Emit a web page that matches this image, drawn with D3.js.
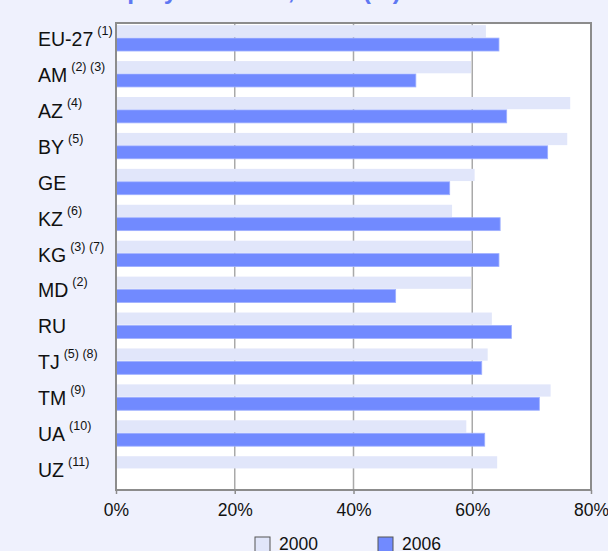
<!DOCTYPE html>
<html>
<head>
<meta charset="utf-8">
<script src="https://cdn.jsdelivr.net/npm/d3@7"></script>
<style>
  body { margin: 0; background: #eff1fd; }
  svg { display: block; font-family: "Liberation Sans", Arial, sans-serif; }
</style>
</head>
<body>
<svg id="chart"></svg>
<script>
// chart data
var countries = ["EU-27", "AM", "AZ", "BY", "GE", "KZ", "KG", "MD", "RU", "TJ", "TM", "UA", "UZ"];
var notes = ["(1)", "(2) (3)", "(4)", "(5)", "", "(6)", "(3) (7)", "(2)", "", "(5) (8)", "(9)", "(10)", "(11)"];
var rate2000 = [62.3, 59.8, 76.5, 76.0, 60.4, 56.6, 59.9, 59.8, 63.3, 62.6, 73.2, 59.0, 64.2];
var rate2006 = [64.5, 50.5, 65.8, 72.7, 56.2, 64.7, 64.5, 47.1, 66.6, 61.6, 71.3, 62.1, null];
var xTicks = [0, 20, 40, 60, 80];
var seriesNames = ["2000", "2006"];

var width = 608, height = 551,
    margin = {top: 23, right: 17, bottom: 61, left: 116},
    plotW = width - margin.left - margin.right,
    plotH = height - margin.top - margin.bottom;

var colors = {"2000": "#e1e6fa", "2006": "#718aff"};

var svg = d3.select("#chart")
            .attr("width", width)
            .attr("height", height);

// title, mostly cut off at the top
svg.append("text")
   .attr("x", 89)
   .attr("y", -1)
   .style("font-size", "24.5px")
   .style("font-weight", "bold")
   .style("fill", "#5f78f2")
   .text("Employment rate, 2006 (%)");

var g = svg.append("g")
           .attr("transform", "translate(" + margin.left + "," + margin.top + ")");

var x = d3.scaleLinear().domain([0, 80]).range([0, plotW]);
var y = d3.scaleBand().domain(countries).range([0, plotH]);
var bw = y.bandwidth();

// plot background
g.append("rect")
 .attr("width", plotW)
 .attr("height", plotH)
 .style("fill", "#fff");

// grid lines
g.selectAll(".grid")
 .data(xTicks.slice(1, -1))
 .enter().append("line")
 .attr("x1", function(d) { return x(d); })
 .attr("x2", function(d) { return x(d); })
 .attr("y1", 0)
 .attr("y2", plotH)
 .style("stroke", "#a9a9a9")
 .style("stroke-width", 1.5);

var rows = countries.map(function(c, i) {
  return {name: c, note: notes[i], a: rate2000[i], b: rate2006[i]};
});

// 2000 bars
g.selectAll(".bar2000")
 .data(rows)
 .enter().append("rect")
 .attr("x", 0)
 .attr("y", function(d) { return y(d.name) + bw * 0.06; })
 .attr("width", function(d) { return x(d.a); })
 .attr("height", bw * 0.34)
 .style("fill", colors["2000"]);

// 2006 bars
g.selectAll(".bar2006")
 .data(rows.filter(function(d) { return d.b != null; }))
 .enter().append("rect")
 .attr("x", 0)
 .attr("y", function(d) { return y(d.name) + bw * 0.42; })
 .attr("width", function(d) { return x(d.b); })
 .attr("height", bw * 0.36)
 .style("fill", colors["2006"])
 .style("stroke", "#9fb0ff")
 .style("stroke-width", 0.8);

// frame
g.append("rect")
 .attr("width", plotW)
 .attr("height", plotH)
 .style("fill", "none")
 .style("stroke", "#8c8c8c")
 .style("stroke-width", 2);

// x axis
var xAxis = d3.axisBottom(x)
              .tickValues(xTicks)
              .tickSize(4)
              .tickFormat(function(d) { return d + "%"; });

var ax = g.append("g")
          .attr("transform", "translate(0," + plotH + ")")
          .call(xAxis);
ax.select(".domain").remove();
ax.selectAll(".tick line").style("stroke", "#8c8c8c").style("stroke-width", 1.5);
ax.selectAll(".tick text")
  .attr("y", 14)
  .style("font-size", "17.5px")
  .style("font-family", "Liberation Sans, Arial, sans-serif")
  .style("fill", "#111");

// category labels with footnote marks
var labels = svg.selectAll(".cat")
                .data(rows)
                .enter().append("text")
                .attr("x", 38)
                .attr("y", function(d) { return margin.top + y(d.name) + bw / 2 + 5; })
                .style("font-size", "19.5px")
                .style("fill", "#111");
labels.append("tspan").text(function(d) { return d.name; });
labels.append("tspan")
      .attr("dx", 4)
      .attr("dy", -11)
      .style("font-size", "12.5px")
      .text(function(d) { return d.note; });

// legend
var legend = svg.selectAll(".legend")
                .data(seriesNames)
                .enter().append("g")
                .attr("transform", function(d, i) { return "translate(" + (255 + i * 123) + ",537)"; });
legend.append("rect")
      .attr("width", 15)
      .attr("height", 15)
      .style("fill", function(d) { return colors[d]; })
      .style("stroke", "#555")
      .style("stroke-width", 1);
legend.append("text")
      .attr("x", 24)
      .attr("y", 13)
      .style("font-size", "17.5px")
      .style("fill", "#111")
      .text(function(d) { return d; });
</script>
</body>
</html>
